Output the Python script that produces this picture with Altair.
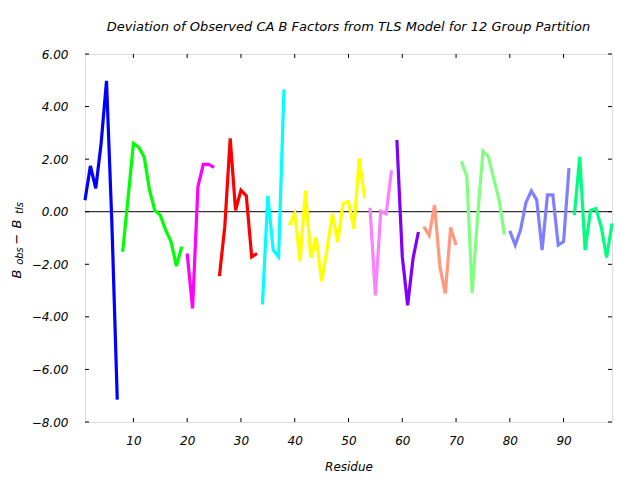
import altair as alt
import pandas as pd

# ---- data ----
group_names = ["g1", "g2", "g3", "g4", "g5", "g6", "g7", "g8", "g9", "g10", "g11", "g12"]
group_colors = ["#0000ff", "#00ff00", "#ff00ff", "#ff0000", "#00ffff", "#ffff00",
                "#ff80ff", "#8000ff", "#ff9980", "#80ff80", "#8080ff", "#00ff80"]
group_start = [1, 8, 20, 26, 34, 39, 54, 59, 64, 71, 80, 92]

g1 = [0.44, 1.74, 0.89, 2.6, 4.98, -0.45, -7.15]
g2 = [-1.53, 0.5, 2.6, 2.45, 2.09, 0.82, 0.04, -0.13, -0.7, -1.14, -2.07, -1.33]
g3 = [-1.59, -3.68, 0.95, 1.8, 1.8, 1.69]
g4 = [-2.45, -0.55, 2.79, 0.05, 0.82, 0.6, -1.72, -1.59]
g5 = [-3.53, 0.6, -1.46, -1.72, 4.66]
g6 = [-0.51, -0.07, -1.88, 0.8, -1.75, -0.97, -2.65, -1.46, -0.07, -1.15, 0.32, 0.38, -0.65, 2.03, 0.51]
g7 = [0.15, -3.18, 0.02, -0.08, 1.58]
g8 = [2.73, -1.7, -3.56, -1.78, -0.77]
g9 = [-0.57, -0.9, 0.25, -2.1, -3.11, -0.6, -1.27]
g10 = [1.92, 1.33, -3.1, -0.2, 2.3, 2.1, 1.26, 0.45, -0.88]
g11 = [-0.73, -1.27, -0.69, 0.35, 0.79, 0.45, -1.46, 0.64, 0.64, -1.27, -1.14, 1.66]
g12 = [-0.13, 2.09, -1.46, 0.04, 0.12, -0.57, -1.74, -0.45]
series = [g1, g2, g3, g4, g5, g6, g7, g8, g9, g10, g11, g12]

y_ticks = [-8, -6, -4, -2, 0, 2, 4, 6]
x_ticks = [10, 20, 30, 40, 50, 60, 70, 80, 90]

title_text = "Deviation of Observed CA B Factors from TLS Model for 12 Group Partition"
ylab_parts = ["B", "obs", "\u2212", "B", "tls"]

rows = []
for name, start, vals in zip(group_names, group_start, series):
    for i, v in enumerate(vals):
        rows.append({"residue": start + i, "value": v, "group": name})
df = pd.DataFrame(rows)

W, H = 527, 368
FONT = "DejaVu Sans"

xscale = alt.Scale(domain=[1, 99], nice=False, zero=False)
yscale = alt.Scale(domain=[-8, 6], nice=False, zero=False)

xaxis = alt.Axis(values=x_ticks, ticks=False, domain=False, grid=False, labelFont=FONT,
                 labelFontStyle="italic", labelFontSize=12, labelColor="black",
                 labelPadding=13, title="Residue", titleFont=FONT, titleFontStyle="italic",
                 titleFontWeight="normal", titleFontSize=12, titleColor="black", titlePadding=15)
yaxis = alt.Axis(values=y_ticks, format=".2f", ticks=False, domain=False, grid=False,
                 labelFont=FONT, labelFontStyle="italic", labelFontSize=12, labelColor="black",
                 labelPadding=17, title=None)

zero = alt.Chart(pd.DataFrame({"v": [0]})).mark_rule(color="black", strokeWidth=1).encode(
    y=alt.Y("v:Q", scale=yscale, axis=yaxis))

lines = alt.Chart(df).mark_line(strokeWidth=3.2, strokeJoin="miter").encode(
    x=alt.X("residue:Q", scale=xscale, axis=xaxis),
    y=alt.Y("value:Q", scale=yscale, axis=yaxis),
    color=alt.Color("group:N", scale=alt.Scale(domain=group_names, range=group_colors), legend=None),
    detail="group:N",
)

ydf = pd.DataFrame({"v": y_ticks})
xdf = pd.DataFrame({"v": x_ticks})
tl = alt.Chart(ydf).mark_rule(color="black").encode(
    y=alt.Y("v:Q", scale=yscale, axis=yaxis), x=alt.value(0), x2=alt.value(4))
tr = alt.Chart(ydf).mark_rule(color="black").encode(
    y=alt.Y("v:Q", scale=yscale, axis=yaxis), x=alt.value(W - 4), x2=alt.value(W))
tb = alt.Chart(xdf).mark_rule(color="black").encode(
    x=alt.X("v:Q", scale=xscale, axis=xaxis), y=alt.value(H), y2=alt.value(H - 4))
tt = alt.Chart(xdf).mark_rule(color="black").encode(
    x=alt.X("v:Q", scale=xscale, axis=xaxis), y=alt.value(0), y2=alt.value(4))

# y-axis label with subscripts, built from text pieces (rotated)
lab_x = [-68, -65, -68, -68, -65]
lab_y = [220, 202, 185, 170, 154]
lab_s = [13, 10, 13, 13, 10]
label_layers = []
for t, lx, ly, s in zip(ylab_parts, lab_x, lab_y, lab_s):
    label_layers.append(
        alt.Chart(pd.DataFrame({"t": [t]})).mark_text(
            angle=270, align="center", baseline="middle", font=FONT, fontStyle="italic",
            fontSize=s, color="black").encode(text="t:N", x=alt.value(lx), y=alt.value(ly)))

chart = alt.layer(zero, lines, tl, tr, tb, tt, *label_layers).properties(
    width=W, height=H,
    title=alt.TitleParams(title_text, font=FONT, fontStyle="italic", fontWeight="normal",
                          fontSize=13, color="black", anchor="middle", offset=14),
    autosize=alt.AutoSizeParams(type="none"),
    padding={"left": 85, "top": 54, "right": 28, "bottom": 58},
).configure_view(stroke="black", strokeWidth=1).configure(background="white")

chart.save("out.html", embed_options={"renderer": "svg", "actions": False})
